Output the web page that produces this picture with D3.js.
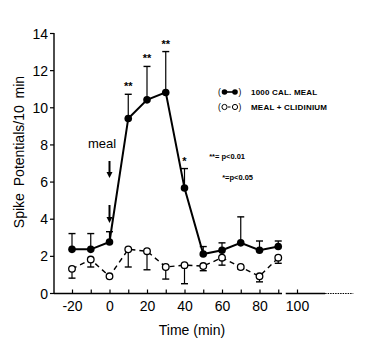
<!DOCTYPE html>
<html><head><meta charset="utf-8">
<script src="https://cdn.jsdelivr.net/npm/d3@7/dist/d3.min.js"></script>
<style>body{margin:0;background:#fff}svg{display:block}text{font-family:"Liberation Sans",Arial,sans-serif;fill:#000}</style>
</head><body><svg id="c" width="380" height="342"></svg>
<script>
const times = [-20,-10,0,10,20,30,40,50,60,70,80,90];
const mealMean = [2.35,2.35,2.75,9.4,10.4,10.8,5.65,2.1,2.3,2.7,2.3,2.5];
const mealErrTop = [3.2,3.2,3.3,10.7,12.2,13.0,6.7,2.5,2.7,4.1,2.8,2.8];
const clidMean = [1.3,1.8,0.9,2.35,2.25,1.4,1.5,1.45,1.9,1.4,0.9,1.9];
const clidErrBottom = [0.8,1.4,0.9,1.4,1.25,0.75,0.5,1.2,1.5,1.3,0.6,1.6];
const sigLabels = ["**","**","**","*"];
const sigTimes = [10,20,30,40];
const xTickLabels = [-20,0,20,40,60,80,100];
const xTickMarks = [-20,-10,0,10,20,30,40,50,60,70,80,90,100];
const yTickLabels = [0,2,4,6,8,10,12,14];
const legendLabels = ["1000  CAL.  MEAL","MEAL + CLIDINIUM"];
const sigNotes = ["**= p<0.01","*=p<0.05"];

const svg = d3.select("#c");
const x = d3.scaleLinear().domain([-20,100]).range([72,297]);
const y = d3.scaleLinear().domain([0,14]).range([293,33]);
const x0 = 54, y0 = 293.5;

// y axis
const yAxis = d3.axisLeft(y).tickValues(yTickLabels).tickSize(4).tickPadding(2);
const gy = svg.append("g").attr("transform",`translate(${x0},0)`).call(yAxis);
gy.select(".domain").attr("d",`M0,${y(14)}V${y0}`).attr("stroke","#000").attr("stroke-width",1.4);
gy.selectAll(".tick line").attr("stroke","#000").attr("stroke-width",1.2);
gy.selectAll(".tick text").style("font-size","14px").attr("dy","0.36em");

// x axis
svg.append("line").attr("x1",x0).attr("x2",x(92)).attr("y1",y0).attr("y2",y0).attr("stroke","#000").attr("stroke-width",1.6);
svg.append("line").attr("x1",x(94)).attr("x2",x(115)).attr("y1",y0).attr("y2",y0).attr("stroke","#000").attr("stroke-width",1.6);
svg.append("line").attr("x1",x(115)).attr("x2",x(130)).attr("y1",y0).attr("y2",y0).attr("stroke","#000").attr("stroke-width",1).attr("stroke-dasharray","1.5,1");
const xAxis = d3.axisBottom(x).tickValues(xTickMarks).tickSizeInner(-4).tickSizeOuter(0).tickPadding(8)
  .tickFormat(d => xTickLabels.includes(d) ? (d<0?"-"+Math.abs(d):d) : "");
const gx = svg.append("g").attr("transform",`translate(0,${y0})`).call(xAxis);
gx.select(".domain").remove();
gx.selectAll(".tick line").attr("stroke","#000").attr("stroke-width",1.2);
gx.selectAll(".tick text").style("font-size","14px");

// axis titles
svg.append("text").attr("transform","translate(24,152) rotate(-90)").attr("text-anchor","middle")
  .style("font-size","14px").style("word-spacing","3px").text("Spike  Potentials/10 min");
svg.append("text").attr("x",192).attr("y",335).attr("text-anchor","middle").style("font-size","14px").text("Time (min)");

// error bars
const eb = svg.append("g");
times.forEach((t,i)=>{
  eb.append("line").attr("x1",x(t)).attr("x2",x(t)).attr("y1",y(mealMean[i])).attr("y2",y(mealErrTop[i])).attr("stroke","#000").attr("stroke-width",1.2);
  eb.append("line").attr("x1",x(t)-3.5).attr("x2",x(t)+3.5).attr("y1",y(mealErrTop[i])).attr("y2",y(mealErrTop[i])).attr("stroke","#000").attr("stroke-width",1.4);
  eb.append("line").attr("x1",x(t)).attr("x2",x(t)).attr("y1",y(clidMean[i])).attr("y2",y(clidErrBottom[i])).attr("stroke","#000").attr("stroke-width",1.2);
  eb.append("line").attr("x1",x(t)-3.5).attr("x2",x(t)+3.5).attr("y1",y(clidErrBottom[i])).attr("y2",y(clidErrBottom[i])).attr("stroke","#000").attr("stroke-width",1.4);
});

const line = d3.line().x(d=>x(d[0])).y(d=>y(d[1]));
svg.append("path").datum(times.map((t,i)=>[t,clidMean[i]])).attr("d",line).attr("fill","none").attr("stroke","#000").attr("stroke-width",1.4).attr("stroke-dasharray","5,4");
svg.append("path").datum(times.map((t,i)=>[t,mealMean[i]])).attr("d",line).attr("fill","none").attr("stroke","#000").attr("stroke-width",2);

svg.append("g").selectAll("circle").data(times).join("circle").attr("cx",d=>x(d)).attr("cy",(d,i)=>y(clidMean[i])).attr("r",3.3).attr("fill","#fff").attr("stroke","#000").attr("stroke-width",1.3);
svg.append("g").selectAll("circle").data(times).join("circle").attr("cx",d=>x(d)).attr("cy",(d,i)=>y(mealMean[i])).attr("r",3.8).attr("fill","#000");

// significance stars
svg.append("g").selectAll("text").data(sigTimes).join("text").attr("x",d=>x(d)).attr("y",(d,i)=>y(mealErrTop[times.indexOf(d)])-4)
  .attr("text-anchor","middle").style("font-size","11px").style("font-weight","bold").text((d,i)=>sigLabels[i]);

// meal annotation and arrows
svg.append("text").attr("x",88).attr("y",148).style("font-size","13px").text("meal");
function arrow(xp,y1,y2){
  svg.append("line").attr("x1",xp).attr("x2",xp).attr("y1",y1).attr("y2",y2-4).attr("stroke","#000").attr("stroke-width",2);
  svg.append("path").attr("d",`M${xp-3},${y2-6}L${xp+3},${y2-6}L${xp},${y2}Z`).attr("fill","#000");
}
arrow(x(0),161,178);
arrow(x(0),205,223);

// legend
const lg = svg.append("g");
lg.append("text").attr("x",218).attr("y",95).style("font-size","8.5px").text("(");
lg.append("line").attr("x1",224).attr("x2",235).attr("y1",92).attr("y2",92).attr("stroke","#000").attr("stroke-width",1.6);
lg.append("circle").attr("cx",224.5).attr("cy",92).attr("r",2.8).attr("fill","#000");
lg.append("circle").attr("cx",235).attr("cy",92).attr("r",2.8).attr("fill","#000");
lg.append("text").attr("x",238.5).attr("y",95).style("font-size","8.5px").text(")");
lg.append("text").attr("x",251).attr("y",95).style("font-size","8px").style("font-weight","bold").style("letter-spacing","0.2px").text(legendLabels[0]);
lg.append("text").attr("x",218).attr("y",110).style("font-size","8.5px").text("(");
lg.append("line").attr("x1",224).attr("x2",235).attr("y1",107).attr("y2",107).attr("stroke","#000").attr("stroke-width",1).attr("stroke-dasharray","2.5,1.5");
lg.append("circle").attr("cx",224.5).attr("cy",107).attr("r",2.6).attr("fill","#fff").attr("stroke","#000").attr("stroke-width",1);
lg.append("circle").attr("cx",235).attr("cy",107).attr("r",2.6).attr("fill","#fff").attr("stroke","#000").attr("stroke-width",1);
lg.append("text").attr("x",238.5).attr("y",110).style("font-size","8.5px").text(")");
lg.append("text").attr("x",251).attr("y",110).style("font-size","8px").style("font-weight","bold").style("letter-spacing","0.2px").text(legendLabels[1]);

svg.append("text").attr("x",245).attr("y",159).attr("text-anchor","end").style("font-size","7.5px").style("font-weight","bold").text(sigNotes[0]);
svg.append("text").attr("x",253).attr("y",180).attr("text-anchor","end").style("font-size","7.5px").style("font-weight","bold").text(sigNotes[1]);
</script></body></html>
